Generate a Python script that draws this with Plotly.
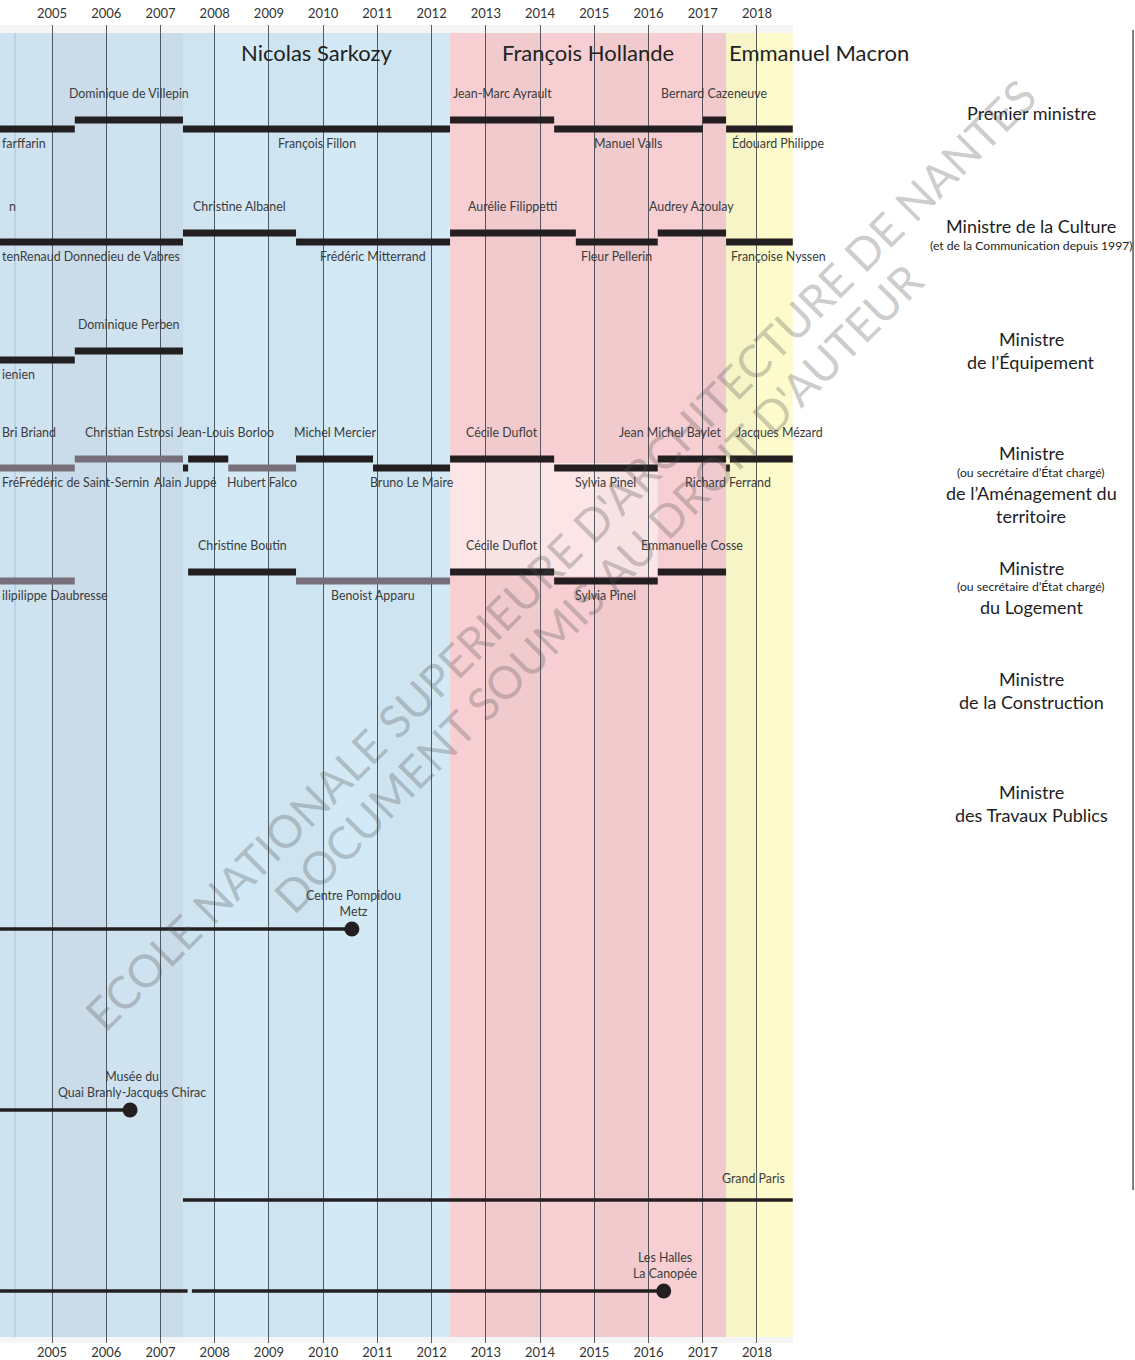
import plotly.graph_objects as go

# ======================= DATA =======================
years = list(range(2005, 2019))
year_labels = [str(y) for y in years]

president_names = ["Jacques Chirac", "Nicolas Sarkozy", "François Hollande", "Emmanuel Macron"]
president_start = [2002.37, 2007.415, 2012.34, 2017.43]
president_end = [2007.415, 2012.34, 2017.43, 2018.66]
president_title = ["", "Nicolas Sarkozy", "François Hollande", "Emmanuel Macron"]

# role index: 0 Premier ministre, 1 Culture, 2 Équipement, 3 Aménagement, 4 Logement, 5 Construction, 6 Travaux publics
mandate_role = [0, 0, 0, 0, 0, 0, 0,
                1, 1, 1, 1, 1, 1, 1,
                2, 2,
                3, 3, 3, 3, 3, 3, 3, 3, 3, 3, 3, 3,
                4, 4, 4, 4, 4, 4]
mandate_name = ["Jean-Pierre Raffarin", "Dominique de Villepin", "François Fillon", "Jean-Marc Ayrault",
                "Manuel Valls", "Bernard Cazeneuve", "Édouard Philippe",
                "Renaud Donnedieu de Vabres", "Christine Albanel", "Frédéric Mitterrand", "Aurélie Filippetti",
                "Fleur Pellerin", "Audrey Azoulay", "Françoise Nyssen",
                "Gilles de Robien", "Dominique Perben",
                "Frédéric de Saint-Sernin", "Christian Estrosi", "Alain Juppé", "Jean-Louis Borloo",
                "Hubert Falco", "Michel Mercier", "Bruno Le Maire", "Cécile Duflot", "Sylvia Pinel",
                "Jean Michel Baylet", "Richard Ferrand", "Jacques Mézard",
                "Marc-Philippe Daubresse", "Christine Boutin", "Benoist Apparu", "Cécile Duflot",
                "Sylvia Pinel", "Emmanuelle Cosse"]
mandate_start = [2002.35, 2005.42, 2007.415, 2012.34, 2014.26, 2017.0, 2017.43,
                 2004.0, 2007.415, 2009.5, 2012.34, 2014.66, 2016.17, 2017.43,
                 2004.0, 2005.42,
                 2004.0, 2005.42, 2007.415, 2007.51, 2008.25, 2009.5, 2010.92, 2012.34, 2014.26,
                 2016.17, 2017.43, 2017.5,
                 2004.0, 2007.51, 2009.5, 2012.34, 2014.26, 2016.17]
mandate_end = [2005.42, 2007.415, 2012.34, 2014.26, 2017.0, 2017.43, 2018.66,
               2007.415, 2009.5, 2012.34, 2014.66, 2016.17, 2017.43, 2018.66,
               2005.42, 2007.415,
               2005.42, 2007.415, 2007.51, 2008.25, 2009.5, 2010.92, 2012.34, 2014.26, 2016.17,
               2017.43, 2017.5, 2018.66,
               2005.42, 2009.5, 2012.34, 2014.26, 2016.17, 2017.43]
# "M" = ministre, "S" = secrétaire d'État
mandate_kind = ["M", "M", "M", "M", "M", "M", "M",
                "M", "M", "M", "M", "M", "M", "M",
                "M", "M",
                "S", "S", "M", "M", "S", "M", "M", "M", "M", "M", "M", "M",
                "S", "M", "S", "M", "M", "M"]

# Ministère de l'Égalité des territoires et du Logement (shared period)
combined_start = 2012.34
combined_end = 2016.17

project_names = ["Centre Pompidou<br>Metz", "Musée du<br>Quai Branly-Jacques Chirac", "Grand Paris",
                 "Les Halles<br>La Canopée"]
project_start = [2000.0, 2000.0, 2007.415, 2000.0]
project_end = [2010.53, 2006.44, 2018.66, 2016.28]
project_completed = [True, True, False, True]
project_gap_start = [None, None, None, 2007.5]
project_gap_end = [None, None, None, 2007.58]

event_line_year = 2004.32

# ======================= LAYOUT CONSTANTS =======================
W, H = 1135, 1360
PXY = 54.23                      # pixels per year
X_MIN = 2005 - 52 / PXY
X_MAX = X_MIN + W / PXY
TOP, BOTTOM = 25, 1343
BAND_TOP, BAND_BOT = 33, 1337
ROW_Y = [120, 233, 351, 459, 572, 686, 799]
LEVEL_GAP = 9
PROJECT_Y = [929, 1110, 1200, 1291]
TITLE_X = 2005 + (1031 - 52) / PXY

BLACK = "#231f20"
GREY_BAR = "#77707b"
TXT = "#3b3b3b"
FONT = "Lato"
LBL = 12.4

band_colors = ["#cfe2ef", "#d3eaf6", "#f7cfd2", "#fdfbcb"]

# labels not simply centred on their bar
label_align = {"Édouard Philippe": ("left", 0.08), "Françoise Nyssen": ("left", 0.05),
               "Jacques Mézard": ("left", 0.07), "Jean Michel Baylet": ("right", -0.05),
               "Jean-Louis Borloo": ("center", 2008.2)}
# clipped labels on the left edge: text, role, level(0 up / 1 down), anchor, x-year
EDGE_X = X_MIN + 0.001
edge_labels = [("farffarin", 0, 1, "left", EDGE_X),
               ("n", 1, 0, "right", 2004.375),
               ("tenRenaud Donnedieu de Vabres", 1, 1, "left", EDGE_X),
               ("ienien", 2, 1, "left", EDGE_X),
               ("Bri Briand", 3, 0, "left", EDGE_X),
               ("FréFrédéric de Saint-Sernin", 3, 1, "left", EDGE_X),
               ("ilipilippe Daubresse", 4, 1, "left", EDGE_X)]
edge_names = {"Jean-Pierre Raffarin", "Gilles de Robien", "Frédéric de Saint-Sernin",
              "Marc-Philippe Daubresse", "Renaud Donnedieu de Vabres"}

right_titles = [
    [("Premier ministre", 18, 113)],
    [("Ministre de la Culture", 18, 226), ("(et de la Communication depuis 1997)", 12.2, 245)],
    [("Ministre", 18, 339), ("de l’Équipement", 18, 362)],
    [("Ministre", 18, 453), ("(ou secrétaire d’État chargé)", 12.2, 472), ("de l’Aménagement du", 18, 493),
     ("territoire", 18, 516)],
    [("Ministre", 18, 568), ("(ou secrétaire d’État chargé)", 12.2, 586), ("du Logement", 18, 607)],
    [("Ministre", 18, 679), ("de la Construction", 18, 702)],
    [("Ministre", 18, 792), ("des Travaux Publics", 18, 815)],
]

# ======================= FIGURE =======================
fig = go.Figure()
shapes = []
annotations = []

# light strips top / bottom
for y0, y1 in [(TOP, BAND_TOP), (BAND_BOT, BOTTOM)]:
    shapes.append(dict(type="rect", xref="x", yref="y", x0=X_MIN - 1, x1=2018.66, y0=y0, y1=y1,
                       fillcolor="#f5f5f5", line_width=0, layer="below"))

# presidential bands
for i, name in enumerate(president_names):
    shapes.append(dict(type="rect", xref="x", yref="y", x0=max(president_start[i], X_MIN - 1),
                       x1=president_end[i], y0=BAND_TOP, y1=BAND_BOT,
                       fillcolor=band_colors[i], line_width=0, layer="below"))
    if president_title[i]:
        if i == len(president_names) - 1:
            annotations.append(dict(x=president_start[i] + 0.02, y=52, xref="x", yref="y",
                                    text=president_title[i], showarrow=False, xanchor="left",
                                    font=dict(family=FONT, size=22, color="#222")))
        else:
            annotations.append(dict(x=(president_start[i] + president_end[i]) / 2, y=52, xref="x",
                                    yref="y", text=president_title[i], showarrow=False,
                                    font=dict(family=FONT, size=22, color="#222")))

# alternate year shading
for y in years:
    if y % 2 == 1:
        shapes.append(dict(type="rect", xref="x", yref="y", x0=y, x1=min(y + 1, president_end[-1]),
                           y0=BAND_TOP, y1=BAND_BOT, fillcolor="rgba(0,10,40,0.025)",
                           line_width=0, layer="below"))

# combined ministry zone
shapes.append(dict(type="rect", xref="x", yref="y", x0=combined_start, x1=combined_end,
                   y0=ROW_Y[3] + 4, y1=ROW_Y[4] + 4, fillcolor="rgba(255,255,255,0.45)",
                   line_width=0, layer="below"))

# light event line
shapes.append(dict(type="line", xref="x", yref="y", x0=event_line_year, x1=event_line_year,
                   y0=BAND_TOP, y1=BAND_BOT, line=dict(color="#a6c6df", width=1), layer="below"))

# right frame line
shapes.append(dict(type="line", xref="paper", yref="y", x0=0.9983, x1=0.9983, y0=30, y1=1190,
                   line=dict(color="#555", width=1.5)))

# mandate bars
seg = {"M": ([], []), "S": ([], [])}
level_counter = {}
for i, name in enumerate(mandate_name):
    r = mandate_role[i]
    idx = level_counter.get(r, 0)
    level_counter[r] = idx + 1
    level = 1 if idx % 2 == 0 else 0          # first is lower, then alternate
    yb = ROW_Y[r] + LEVEL_GAP * level
    xs, ys = seg[mandate_kind[i]]
    xs += [mandate_start[i], mandate_end[i], None]
    ys += [yb, yb, None]
    if name in edge_names and mandate_start[i] < X_MIN:
        continue
    ly = yb - 27 if level == 0 else yb + 14
    anchor, xl = "center", (mandate_start[i] + mandate_end[i]) / 2
    if name in label_align:
        a, v = label_align[name]
        if a == "left":
            anchor, xl = "left", mandate_start[i] + v
        elif a == "right":
            anchor, xl = "right", mandate_end[i] + v
        else:
            xl = v
    annotations.append(dict(x=xl, y=ly, xref="x", yref="y", text=name, showarrow=False,
                            xanchor=anchor, yanchor="middle",
                            font=dict(family=FONT, size=LBL, color=TXT)))

for kind, color in [("S", GREY_BAR), ("M", BLACK)]:
    xs, ys = seg[kind]
    fig.add_trace(go.Scatter(x=xs, y=ys, mode="lines", line=dict(color=color, width=7),
                             hoverinfo="skip", showlegend=False))

for text, r, level, anchor, xv in edge_labels:
    yb = ROW_Y[r] + LEVEL_GAP * level
    ly = yb - 27 if level == 0 else yb + 14
    annotations.append(dict(x=xv, y=ly, xref="x", yref="y", text=text, showarrow=False,
                            xanchor=anchor, yanchor="middle",
                            font=dict(family=FONT, size=LBL, color=TXT)))

# projects
px, py, dx, dy = [], [], [], []
for i, name in enumerate(project_names):
    yp = PROJECT_Y[i]
    if project_gap_start[i] is not None:
        px += [project_start[i], project_gap_start[i], None, project_gap_end[i], project_end[i], None]
        py += [yp, yp, None, yp, yp, None]
    else:
        px += [project_start[i], project_end[i], None]
        py += [yp, yp, None]
    if project_completed[i]:
        dx.append(project_end[i])
        dy.append(yp)
        annotations.append(dict(x=project_end[i] + 0.03, y=yp - 8, xref="x", yref="y", text=name,
                                showarrow=False, xanchor="center", yanchor="bottom",
                                font=dict(family=FONT, size=LBL, color=TXT)))
    else:
        annotations.append(dict(x=project_end[i] - 0.1, y=yp - 22, xref="x", yref="y", text=name,
                                showarrow=False, xanchor="right", yanchor="middle",
                                font=dict(family=FONT, size=LBL, color=TXT)))

fig.add_trace(go.Scatter(x=px, y=py, mode="lines", line=dict(color=BLACK, width=3.5),
                         hoverinfo="skip", showlegend=False))
fig.add_trace(go.Scatter(x=dx, y=dy, mode="markers", marker=dict(color=BLACK, size=15),
                         hoverinfo="skip", showlegend=False))

# right-hand titles
for block in right_titles:
    for text, size, yy in block:
        annotations.append(dict(x=TITLE_X, y=yy, xref="x", yref="y", text=text, showarrow=False,
                                xanchor="center", yanchor="middle",
                                font=dict(family=FONT, size=size, color="#1e1e1e")))

# watermark
wm_font = dict(family=FONT, size=45, color="rgba(80,80,80,0.30)")
annotations.append(dict(x=2014.37, y=555, xref="x", yref="y", textangle=-45, showarrow=False,
                        text="ECOLE NATIONALE SUPERIEURE D'ARCHITECTURE DE NANTES", font=wm_font))
annotations.append(dict(x=2015.07, y=588, xref="x", yref="y", textangle=-45, showarrow=False,
                        text="DOCUMENT SOUMIS AU DROIT D'AUTEUR", font=wm_font))

# dummy trace for top axis
fig.add_trace(go.Scatter(x=[years[0]], y=[TOP], xaxis="x2", mode="markers",
                         marker=dict(opacity=0), hoverinfo="skip", showlegend=False))

axis_common = dict(range=[X_MIN, X_MAX], tickmode="array", tickvals=years, ticktext=year_labels,
                   zeroline=False, showline=False,
                   tickfont=dict(family=FONT, size=13, color="#333"))
fig.update_layout(
    width=W, height=H,
    margin=dict(l=0, r=0, t=TOP, b=H - BOTTOM),
    paper_bgcolor="white", plot_bgcolor="white",
    showlegend=False,
    xaxis=dict(**axis_common, side="bottom", ticks="", showgrid=True,
               gridcolor="rgba(25,35,45,0.72)", gridwidth=1.2),
    xaxis2=dict(**axis_common, side="top", overlaying="x", matches="x", showgrid=False,
                ticks="outside", ticklen=1, tickcolor="rgba(0,0,0,0)"),
    yaxis=dict(range=[BOTTOM, TOP], visible=False, showgrid=False, zeroline=False),
    shapes=shapes,
    annotations=annotations,
)

fig.write_html("out.html", config={"displayModeBar": False},
               post_script="document.body.style.margin='0';")
